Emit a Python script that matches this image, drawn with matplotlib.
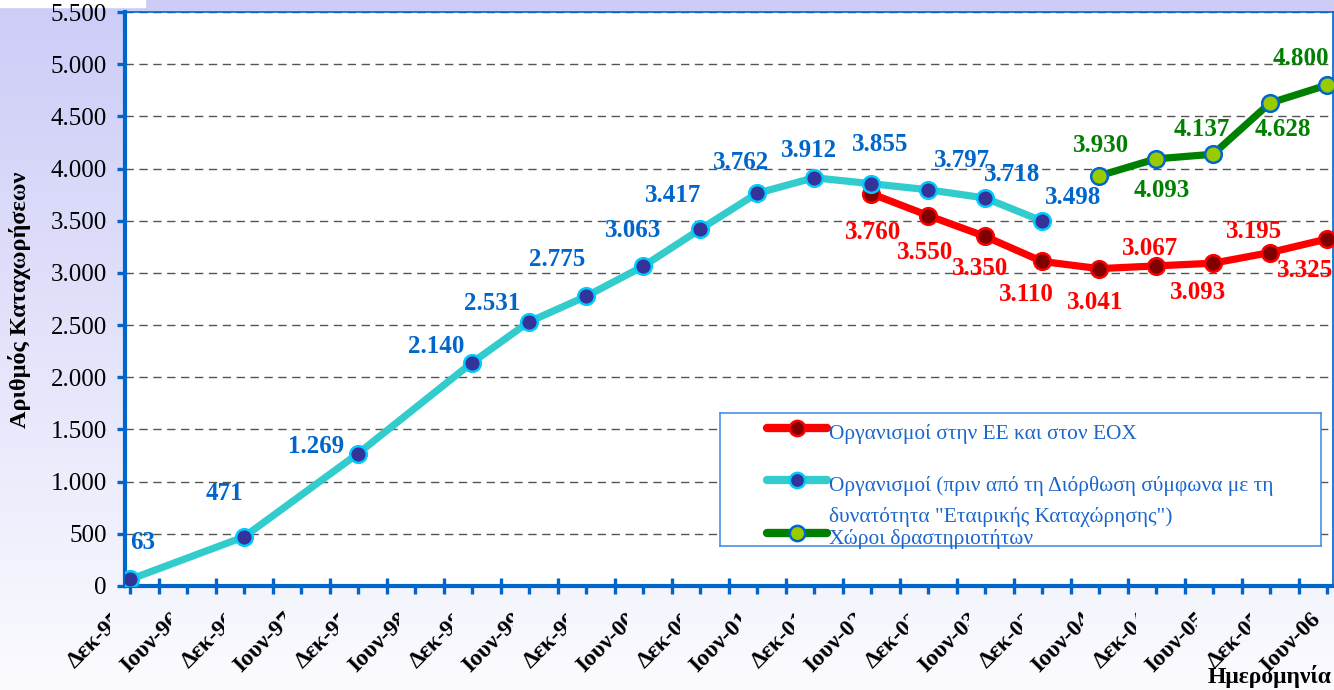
import matplotlib
matplotlib.use("Agg")
import matplotlib.pyplot as plt
import numpy as np
from matplotlib.transforms import Bbox
from matplotlib.patches import Rectangle

W, H = 1334, 690
SERIF = ["Liberation Serif", "DejaVu Serif"]

periods = ["Δεκ-95", "Ιουν-96", "Δεκ-96", "Ιουν-97", "Δεκ-97", "Ιουν-98",
           "Δεκ-98", "Ιουν-99", "Δεκ-99", "Ιουν-00", "Δεκ-00", "Ιουν-01",
           "Δεκ-01", "Ιουν-02", "Δεκ-02", "Ιουν-03", "Δεκ-03", "Ιουν-04",
           "Δεκ-04", "Ιουν-05", "Δεκ-05", "Ιουν-06"]

# organisations before the "corporate registration" correction
cyan_periods = ["Δεκ-95", "Δεκ-96", "Δεκ-97", "Δεκ-98", "Ιουν-99", "Δεκ-99",
                "Ιουν-00", "Δεκ-00", "Ιουν-01", "Δεκ-01", "Ιουν-02", "Δεκ-02",
                "Ιουν-03", "Δεκ-03"]
cyan_values = [63, 471, 1269, 2140, 2531, 2775, 3063, 3417, 3762, 3912,
               3855, 3797, 3718, 3498]

# organisations in EU / EEA
red_periods = ["Ιουν-02", "Δεκ-02", "Ιουν-03", "Δεκ-03", "Ιουν-04", "Δεκ-04",
               "Ιουν-05", "Δεκ-05", "Ιουν-06"]
red_values = [3760, 3550, 3350, 3110, 3041, 3067, 3093, 3195, 3325]

# sites
green_periods = ["Ιουν-04", "Δεκ-04", "Ιουν-05", "Δεκ-05", "Ιουν-06"]
green_values = [3930, 4093, 4137, 4628, 4800]

legend_labels = ["Οργανισμοί στην ΕΕ και στον ΕΟΧ",
                 "Οργανισμοί (πριν από τη Διόρθωση σύμφωνα με τη",
                 "δυνατότητα \"Εταιρικής Καταχώρησης\")",
                 "Χώροι δραστηριοτήτων"]

# label offsets in pixels (dx, dy up)
cyan_off = [(13, 37), (-20, 43), (-42, 7), (-36, 16), (-37, 18), (-29, 37),
            (-10, 36), (-27, 34), (-16, 31), (-5, 27), (9, 39), (34, 29),
            (27, 23), (31, 23)]
red_off = [(2, -39), (-3, -37), (-5, -32), (-16, -33), (-4, -34), (-6, 17),
           (-15, -29), (-16, 21), (-22, -32)]
green_off = [(2, 30), (6, -32), (-11, 25), (13, -26), (-26, 27)]

BLUE = "#0066CC"


def fmt(v):
    return f"{v:,}".replace(",", ".")


fig = plt.figure(figsize=(W / 100, H / 100), dpi=100)

# background gradient
bg = fig.add_axes([0, 0, 1, 1], zorder=-10)
top = np.array([0.80, 0.80, 0.97])
bot = np.array([0.985, 0.985, 1.0])
t = np.linspace(0, 1, 256)[:, None]
grad = top + (bot - top) * t
bg.imshow(grad[:, None, :], aspect="auto", extent=[0, 1, 0, 1])
bg.add_patch(Rectangle((0, 1 - 7 / H), 145 / W, 7 / H, color="white"))
bg.set_axis_off()

ax = fig.add_axes([125 / W, (H - 586) / H, (1333 - 125) / W, (586 - 12) / H])
ax.set_facecolor("white")
ax.set_xlim(-0.088, 21.105)
ax.set_ylim(0, 5500)

idx = {p: i for i, p in enumerate(periods)}

series = [
    (red_periods, red_values, red_off, "#FF0000", "#800000", "#FF0000", "#FF0000", 3),
    (cyan_periods, cyan_values, cyan_off, "#33CCCC", "#333399", "#00CCFF", BLUE, 4),
    (green_periods, green_values, green_off, "#008000", "#99CC00", BLUE, "#008000", 4),
]
for per, vals, offs, lc, mfc, mec, tc, z in series:
    xs = [idx[p] for p in per]
    ax.plot(xs, vals, color=lc, lw=5.2, marker="o", ms=12, mfc=mfc, mec=mec,
            mew=1.8, solid_joinstyle="round", solid_capstyle="round", zorder=z)
    for x, v, (dx, dy) in zip(xs, vals, offs):
        ax.annotate(fmt(v), (x, v), xytext=(dx, dy), textcoords="offset pixels",
                    ha="center", va="center", color=tc, fontsize=18,
                    fontweight="bold", family=SERIF, zorder=6)

# grid
ax.set_yticks(np.arange(0, 5501, 500))
ax.set_yticklabels([fmt(v) for v in range(0, 5501, 500)], family=SERIF, fontsize=18)
ax.yaxis.grid(True, color="#555555", lw=1.0, linestyle=(0, (6, 4)))
ax.set_axisbelow(True)

# spines
for side in ["left", "bottom"]:
    ax.spines[side].set_color(BLUE)
    ax.spines[side].set_linewidth(3)
for side in ["top", "right"]:
    ax.spines[side].set_color(BLUE)
    ax.spines[side].set_linewidth(1.2)

ax.tick_params(axis="y", direction="out", length=6, width=2.4, color=BLUE, pad=7)
ax.set_xticks(range(len(periods)))
ax.set_xticks(np.arange(0.5, len(periods) - 1, 1), minor=True)
ax.tick_params(axis="x", which="major", direction="out", length=6, width=2.4,
               color=BLUE)
ax.tick_params(axis="x", which="minor", direction="inout", length=12, width=2.4,
               color=BLUE)
ax.set_xticklabels([])

# date labels; Excel clipped most of them at their right end
for i, p in enumerate(periods):
    lbl = ax.annotate(p, (i, 0), xycoords=("data", "axes fraction"),
                      xytext=(-10, -30), textcoords="offset pixels",
                      rotation=45, rotation_mode="anchor", ha="right", va="center",
                      fontsize=17, fontweight="bold", family=SERIF,
                      annotation_clip=False)
    if i == len(periods) - 1:
        continue
    xd = ax.transData.transform((i, 0))[0]
    cut = 16 if p.startswith("Ι") else 20
    lbl.set_clip_box(Bbox.from_extents(0, 0, xd - cut, H))
    lbl.set_clip_on(True)

fig.text(20 / W, 1 - 300 / H, "Αριθμός Καταχωρήσεων", rotation=90, ha="center",
         va="center", fontsize=17.5, fontweight="bold", family=SERIF)
fig.text(1331 / W, 1 - 676 / H, "Ημερομηνία", ha="right", va="center",
         fontsize=17, fontweight="bold", family=SERIF)

# legend box
lx0, ly0, lx1, ly1 = 720, 413, 1321, 546
leg = fig.add_axes([lx0 / W, 1 - ly1 / H, (lx1 - lx0) / W, (ly1 - ly0) / H], zorder=5)
leg.set_xlim(0, lx1 - lx0)
leg.set_ylim(ly1 - ly0, 0)
leg.set_xticks([])
leg.set_yticks([])
leg.set_facecolor("white")
for s in leg.spines.values():
    s.set_color("#4a90e2")
    s.set_linewidth(1.2)

handles = [(15, "#FF0000", "#800000", "#FF0000"),
           (67, "#33CCCC", "#333399", "#00CCFF"),
           (120, "#008000", "#99CC00", BLUE)]
for hy, lc, mfc, mec in handles:
    leg.plot([47, 107], [hy, hy], color=lc, lw=6, solid_capstyle="round")
    leg.plot([77], [hy], "o", ms=11, mfc=mfc, mec=mec, mew=1.8)
for ty, text in zip([21, 73, 104, 126], legend_labels):
    leg.text(109, ty, text, ha="left", va="center", color="#1a66cc",
             fontsize=15.4, family=SERIF)

fig.savefig("out.png", dpi=100)
